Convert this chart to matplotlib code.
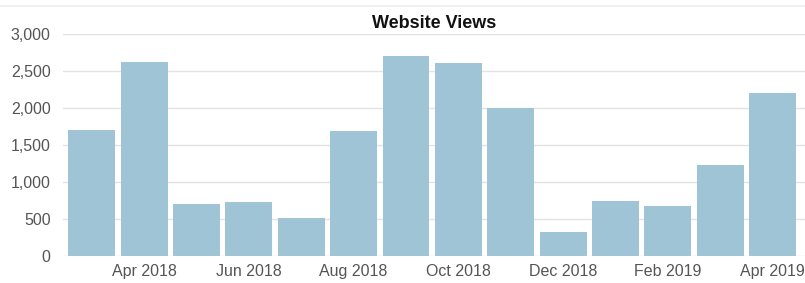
# Website views per month, bar chart
import numpy as np
import matplotlib.pyplot as plt
from matplotlib.lines import Line2D
from matplotlib.ticker import FuncFormatter

months = ["Mar 2018", "Apr 2018", "May 2018", "Jun 2018", "Jul 2018", "Aug 2018", "Sep 2018",
          "Oct 2018", "Nov 2018", "Dec 2018", "Jan 2019", "Feb 2019", "Mar 2019", "Apr 2019"]
views = [1700, 2620, 700, 730, 515, 1690, 2700, 2610, 2000, 320, 740, 680, 1230, 2200]
yticks = [0, 500, 1000, 1500, 2000, 2500, 3000]

plt.rcParams['font.family'] = ['Liberation Sans', 'DejaVu Sans']

fig = plt.figure(figsize=(8.05, 2.83), dpi=100)
ax = fig.add_axes([63 / 805, 1 - 256 / 283, 1 - 63 / 805, 222 / 283])

x = np.arange(len(months))
ax.bar(x, views, width=0.895, color='#9ec4d6', zorder=2)

ax.set_ylim(0, 3000)
ax.set_xlim(-0.55, 13.62)
ax.set_yticks(yticks)
ax.yaxis.set_major_formatter(FuncFormatter(lambda v, p: f"{int(v):,}"))
ax.set_xticks(x[1::2])
ax.set_xticklabels(months[1::2])
ax.grid(axis='y', color='#e3e3e3', linewidth=1, zorder=0)
for s in ax.spines.values():
    s.set_visible(False)
ax.tick_params(axis='both', length=0, labelsize=11.5, colors='#555555')
ax.tick_params(axis='y', pad=9)
ax.tick_params(axis='x', pad=6)

ax.set_title("Website Views", fontsize=13, fontweight='bold', color='#111111', pad=4)

# thin light line across the top of the figure
fig.add_artist(Line2D([0, 1], [1 - 6 / 283, 1 - 6 / 283], color='#eeeeee', linewidth=1.2))

fig.savefig("out.png", dpi=100)
